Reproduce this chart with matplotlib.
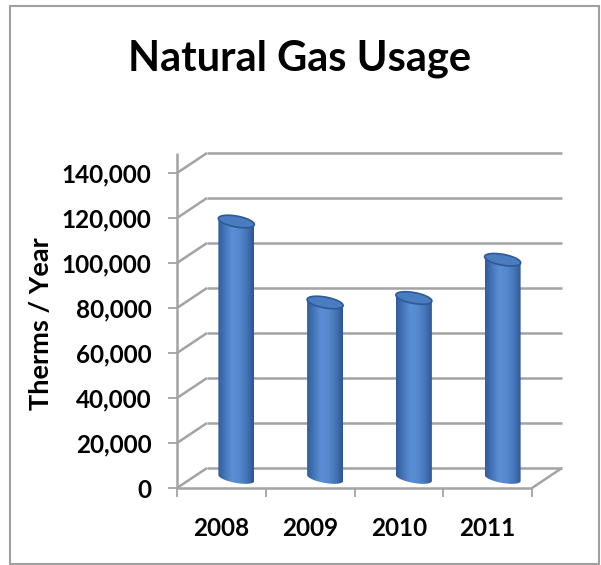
import numpy as np
import matplotlib
matplotlib.use("Agg")
import matplotlib.pyplot as plt
from matplotlib.patches import Polygon, Rectangle
from matplotlib.colors import LinearSegmentedColormap
from matplotlib.ticker import FuncFormatter

# data
years = ['2008', '2009', '2010', '2011']
therms = [114000, 78000, 80000, 97000]
y_ticks = [0, 20000, 40000, 60000, 80000, 100000, 120000, 140000]

W, H = 601, 565
FONT = ['Lato', 'DejaVu Sans']
GRID = '#a3a3a3'

fig = plt.figure(figsize=(W / 100, H / 100), dpi=100, facecolor='white')

# front plane of the 3d box, in pixels
x0, x1 = 177, 532
ytop, ybot = 173, 488
ax = fig.add_axes([x0 / W, 1 - ybot / H, (x1 - x0) / W, (ybot - ytop) / H])
ax.set_facecolor('none')

ymax = y_ticks[-1]
ncat = len(years)
# depth offset (30 px right, 20 px up) in data units
DX = 30 / ((x1 - x0) / ncat)
DY = 20 * ymax / (ybot - ytop)


def line3d(xs, ys, ds, **kw):
    xs, ys, ds = map(np.asarray, (xs, ys, ds))
    ax.plot(xs + ds * DX, ys + ds * DY, clip_on=False, solid_capstyle='butt', **kw)


# back wall gridlines + left wall diagonals
for v in y_ticks:
    line3d([0, ncat], [v, v], [1, 1], color=GRID, lw=1.8, zorder=1)
    line3d([0, 0], [v, v], [0, 1], color=GRID, lw=1.8, zorder=1)
# floor
line3d([ncat, ncat], [0, 0], [0, 1], color=GRID, lw=1.8, zorder=1)
line3d([0, ncat], [0, 0], [0, 0], color=GRID, lw=1.8, zorder=1)
# front vertical axis
line3d([0, 0], [0, ymax + DY], [0, 0], color=GRID, lw=1.8, zorder=1)

# cylinders
cmap = LinearSegmentedColormap.from_list(
    'cyl', ['#2f5c9a', '#4677bb', '#5b8fd3', '#5588cc', '#4475b7', '#2c5591'])
rx = 18 / ((x1 - x0) / ncat)
ry_b = 5 * ymax / (ybot - ytop)
ry_t = 5.5 * ymax / (ybot - ytop)
tilt = -3 * ymax / (ybot - ytop)
t = np.linspace(0, 2 * np.pi, 80)
grad = np.linspace(0, 1, 256).reshape(1, -1)

for i, v in enumerate(therms):
    cx = i + 0.5 + 0.5 * DX
    yb = 0.5 * DY
    yt = v + 0.5 * DY
    # body: left side up, top, right side down, lower half of bottom ellipse
    tb = np.linspace(0, np.pi, 40)
    bx = cx - rx * np.cos(tb)
    by = yb - ry_b * np.sin(tb) + tilt * (bx - cx) / rx
    body = np.vstack([
        [[cx - rx, yt - tilt]],
        np.column_stack([bx, by]),
        [[cx + rx, yt + tilt]],
    ])
    poly = Polygon(body, closed=True, facecolor='none', edgecolor='none')
    ax.add_patch(poly)
    im = ax.imshow(grad, cmap=cmap, aspect='auto', zorder=3,
                   extent=[cx - rx, cx + rx, yb - ry_b * 2, yt + ry_t],
                   interpolation='bilinear')
    im.set_clip_path(poly)
    im.set_clip_on(True)
    # top face
    ex = cx + rx * np.cos(t)
    ey = yt + ry_t * np.sin(t) + tilt * (ex - cx) / rx
    ax.add_patch(Polygon(np.column_stack([ex, ey]), closed=True,
                         facecolor='#4a7dc0', edgecolor='#2d5a96',
                         lw=1.2, zorder=4, clip_on=False))

ax.set_xlim(0, ncat)
ax.set_ylim(0, ymax)

for s in ax.spines.values():
    s.set_visible(False)

ax.set_yticks(y_ticks)
ax.yaxis.set_major_formatter(FuncFormatter(lambda x, _: f"{x:,.0f}"))
ax.tick_params(axis='y', direction='out', length=6.5, width=1.3, color=GRID,
               pad=12, labelsize=17.5, labelcolor='black')
ax.set_xticks(np.arange(ncat) + 0.5)
ax.set_xticklabels(years)
ax.set_xticks(np.arange(ncat + 1), minor=True)
ax.tick_params(axis='x', which='major', length=0, pad=21,
               labelsize=17.5, labelcolor='black')
ax.tick_params(axis='x', which='minor', direction='out', length=6.5,
               width=1.3, color=GRID)
for lab in ax.get_xticklabels() + ax.get_yticklabels():
    lab.set_family(FONT)
    lab.set_fontweight('bold')

fig.text(41 / W, 1 - 324 / H, 'Therms / Year', rotation=90, ha='center',
         va='center', fontsize=19.5, fontweight='bold', family=FONT)
fig.text(300 / W, 1 - 70 / H, 'Natural Gas Usage', ha='center',
         va='baseline', fontsize=30, fontweight='bold', family=FONT)

# outer chart border
fig.patches.append(Rectangle((10 / W, 1 - 564 / H), 589 / W, 558 / H,
                             transform=fig.transFigure, fill=False,
                             edgecolor='#a0a0a0', lw=1.5))

fig.savefig('out.png', dpi=100, facecolor='white')
